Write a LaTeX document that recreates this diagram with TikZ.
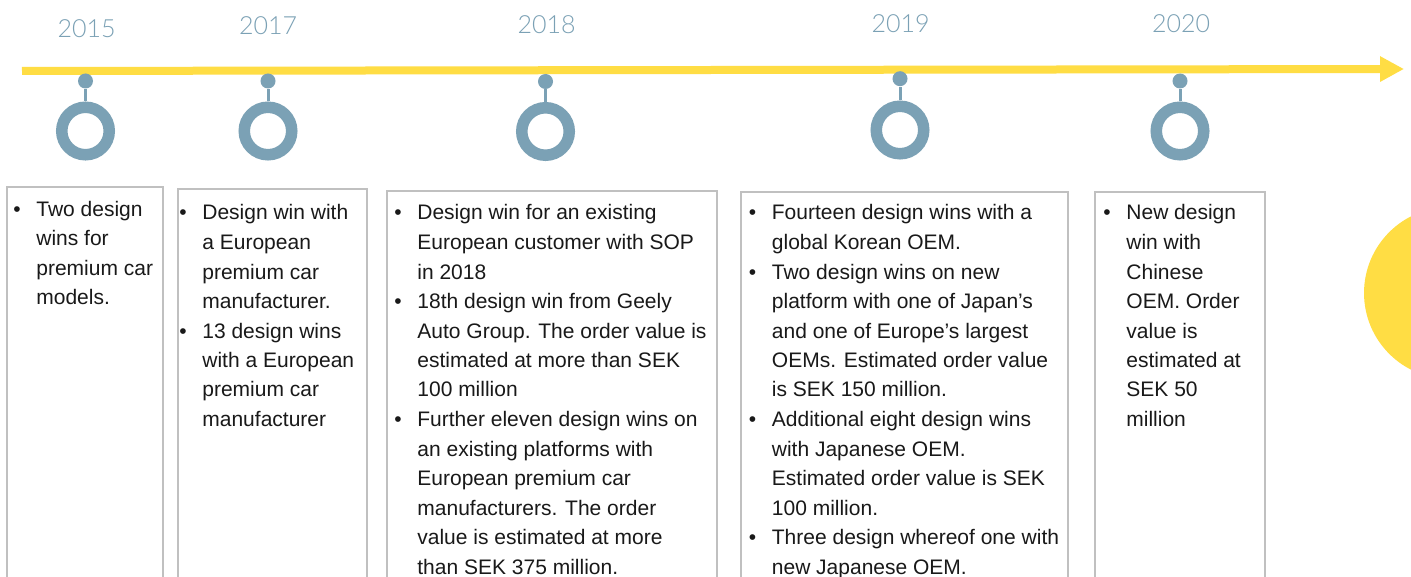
\documentclass[tikz,border=0pt]{standalone}
\usepackage{fontspec}
\setmainfont{Liberation Sans}
\newfontfamily\yearfont{Lato Light}
\usetikzlibrary{arrows.meta}

\definecolor{sunyellow}{HTML}{FFDD44}
\definecolor{pinblue}{HTML}{7BA1B5}
\definecolor{framegray}{HTML}{C0C0C0}

\newcommand{\bul}{\textbullet}
\newcommand{\wins}[1]{\begin{tabular}[t]{@{}p{11.5pt}@{}l@{}}#1\end{tabular}}

\tikzset{
	year/.style={text=pinblue, font=\yearfont\fontsize{12.5}{15}\selectfont, inner sep=0pt},
	pindot/.style={circle, fill=pinblue, minimum size=7.5pt, inner sep=0pt},
	ring/.style={circle, draw=pinblue, line width=5.75pt, minimum size=23.75pt, inner sep=0pt},
	stem/.style={draw=pinblue, line width=1.5pt},
	winbox/.style={draw=framegray, line width=1pt, rectangle, anchor=north west, inner sep=0pt, outer sep=0pt, minimum height=210pt},
	items/.style={anchor=base west, inner sep=0pt, font=\fontsize{10.5}{14.75}\selectfont, text=black!90}
}

\begin{document}
\begin{tikzpicture}[x=0.5pt, y=-0.5pt]
		\path[use as bounding box, fill=white] (0,0) rectangle (1411,577);
		\clip (0,0) rectangle (1411,577);

		% Sun at the right edge
		\node[circle, fill=sunyellow, minimum size=86pt, inner sep=0pt] (sun) at (1450,293) {};

		% Time axis
		\coordinate (axisstart) at (22,71);
		\coordinate (axisend) at (1404,69);
		\draw[sunyellow, line width=4pt, -{Triangle[length=12pt,width=12pt]}] (axisstart) -- (axisend);

		% Milestone 1: 2015
		\node[year] (y15) at (86.5,28.3) {2015};
		\node[pindot] (d15) at (85.5,81) {};
		\node[ring] (r15) at (85.5,131) {};
		\draw[stem] (d15) -- (r15);
		\node[winbox, minimum width=78.25pt] (b15) at (6.5,187) {};
		\node[items] (t15) at (13,216) {\wins{
			\bul & Two design\\
			& wins for\\
			& premium car\\
			& models.}};

		% Milestone 2: 2017
		\node[year] (y17) at (268,25.5) {2017};
		\node[pindot] (d17) at (268,81) {};
		\node[ring] (r17) at (268,131) {};
		\draw[stem] (d17) -- (r17);
		\node[winbox, minimum width=94.5pt] (b17) at (178,189) {};
		\node[items] (t17) at (179,220) {\wins{
			\bul & Design win with\\
			& a European\\
			& premium car\\
			& manufacturer.\\
			\bul & 13 design wins\\
			& with a European\\
			& premium car\\
			& manufacturer}};

		% Milestone 3: 2018
		\node[year] (y18) at (546.7,25) {2018};
		\node[pindot] (d18) at (545.5,81.5) {};
		\node[ring] (r18) at (545.5,131.5) {};
		\draw[stem] (d18) -- (r18);
		\node[winbox, minimum width=165pt] (b18) at (387,191) {};
		\node[items] (t18) at (394,220) {\wins{
			\bul & Design win for an existing\\
			& European customer with SOP\\
			& in 2018\\
			\bul & 18th design win from Geely\\
			& Auto Group. The order value is\\
			& estimated at more than SEK\\
			& 100 million\\
			\bul & Further eleven design wins on\\
			& an existing platforms with\\
			& European premium car\\
			& manufacturers. The order\\
			& value is estimated at more\\
			& than SEK 375 million.}};

		% Milestone 4: 2019
		\node[year] (y19) at (900.5,23.5) {2019};
		\node[pindot] (d19) at (900,78.7) {};
		\node[ring] (r19) at (900,130) {};
		\draw[stem] (d19) -- (r19);
		\node[winbox, minimum width=163.5pt] (b19) at (741,192) {};
		\node[items] (t19) at (748.5,220) {\wins{
			\bul & Fourteen design wins with a\\
			& global Korean OEM.\\
			\bul & Two design wins on new\\
			& platform with one of Japan’s\\
			& and one of Europe’s largest\\
			& OEMs. Estimated order value\\
			& is SEK 150 million.\\
			\bul & Additional eight design wins\\
			& with Japanese OEM.\\
			& Estimated order value is SEK\\
			& 100 million.\\
			\bul & Three design whereof one with\\
			& new Japanese OEM.}};

		% Milestone 5: 2020
		\node[year] (y20) at (1181,23.3) {2020};
		\node[pindot] (d20) at (1180,81) {};
		\node[ring] (r20) at (1180,131) {};
		\draw[stem] (d20) -- (r20);
		\node[winbox, minimum width=85pt] (b20) at (1095,192) {};
		\node[items] (t20) at (1103,220) {\wins{
			\bul & New design\\
			& win with\\
			& Chinese\\
			& OEM. Order\\
			& value is\\
			& estimated at\\
			& SEK 50\\
			& million}};
	\end{tikzpicture}
\end{document}
